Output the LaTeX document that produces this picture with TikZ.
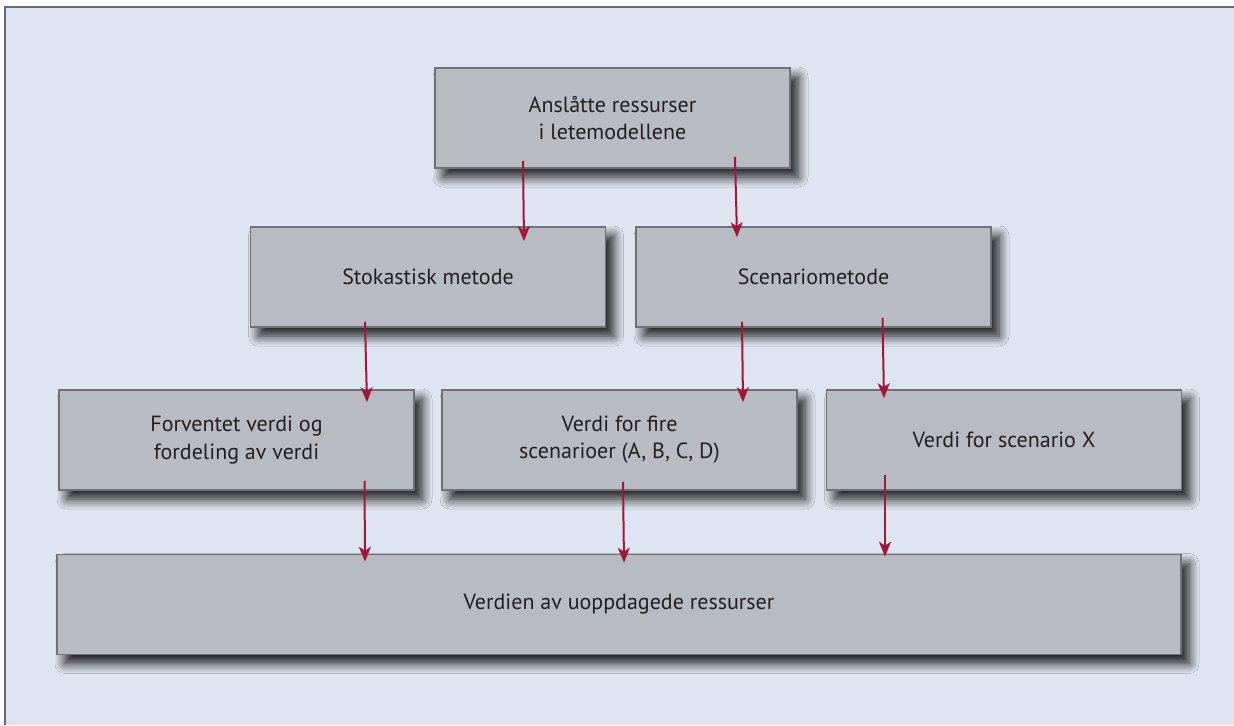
\documentclass[tikz,border=0pt]{standalone}
\usepackage{fontspec}
\setmainfont{PT Sans}
\usepackage{tikz}
\usetikzlibrary{positioning}
\usetikzlibrary{shadows.blur}
\usetikzlibrary{arrows.meta}
\definecolor{bgblue}{HTML}{DFE5F0}
\definecolor{framegray}{HTML}{676A72}
\definecolor{boxgray}{HTML}{B9BBC3}
\definecolor{boxline}{HTML}{6F7178}
\definecolor{arrred}{HTML}{A0173A}
\definecolor{txtdark}{HTML}{231F20}
\tikzstyle{arrow} = [line width=1pt,arrred,-{Stealth[length=7.5pt,width=6pt,inset=2pt]}]
\begin{document}
\begin{tikzpicture}[x=0.5pt,y=-0.5pt,
  box/.style = {draw=boxline,line width=0.8pt,fill=boxgray,
  minimum width=177.5pt,minimum height=50pt,align=center,
  text=txtdark,font=\fontsize{11}{13.6}\selectfont,
  blur shadow={shadow xshift=4pt,shadow yshift=-4.5pt,shadow blur radius=5pt,
  shadow blur steps=10,shadow opacity=90,shadow scale=1}},
  wide/.style = {box,minimum width=562pt}]
 \useasboundingbox (0,0) rectangle (1234,725);
 \fill[bgblue] (5,7) rectangle (1234,725);
 \draw[framegray,line width=1.2pt] (5,725) -- (5,7) -- (1234,7);
 \node[box] (anslag) at (612.5,118) {Anslåtte ressurser\\i letemodellene};
 \node[box] (stok)   at (428,277)   {Stokastisk metode};
 \node[box] (scen)   at (813.5,277) {Scenariometode};
 \node[box] (forv)   at (236.5,440) {Forventet verdi og\\fordeling av verdi};
 \node[box] (fire)   at (619.5,440) {Verdi for fire\\scenarioer (A, B, C, D)};
 \node[box] (scx)    at (1004,440)  {Verdi for scenario X};
 \node[wide] (verdi) at (619,604.5) {Verdien av uoppdagede ressurser};
 %arrows start inside the upper box
 \draw[arrow] ([shift={(-89.5,-8)}]anslag.south) -- ([shift={(96,15)}]stok.north);
 \draw[arrow] ([shift={(122.5,-12)}]anslag.south) -- ([shift={(-76.5,11)}]scen.north);
 \draw[arrow] ([shift={(-63,-6)}]stok.south) -- ([shift={(130.5,13)}]forv.north);
 \draw[arrow] ([shift={(-71.5,-6)}]scen.south) -- ([shift={(123.5,13)}]fire.north);
 \draw[arrow] ([shift={(69,-10)}]scen.south) -- ([shift={(-120,9)}]scx.north);
 \draw[arrow] ([shift={(128,-10)}]forv.south) -- ([shift={(-254,8)}]verdi.north);
 \draw[arrow] ([shift={(3.5,-9)}]fire.south) -- ([shift={(5,9)}]verdi.north);
 \draw[arrow] ([shift={(-119,-16)}]scx.south) -- ([shift={(266,3)}]verdi.north);
\end{tikzpicture}
\end{document}
